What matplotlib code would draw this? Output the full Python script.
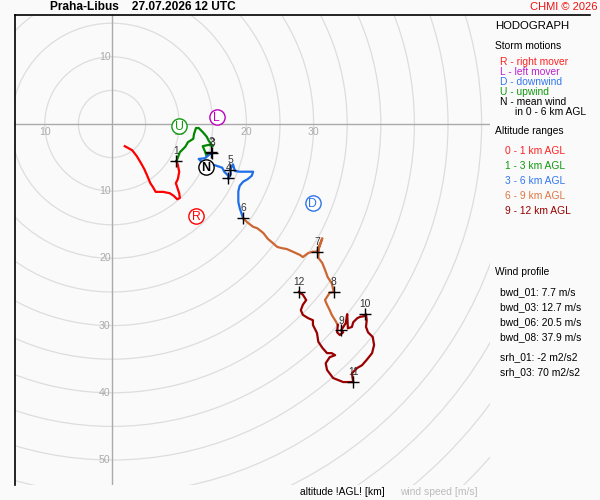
import numpy as np
import matplotlib
matplotlib.use('Agg')
import matplotlib.pyplot as plt
from matplotlib.patches import Circle
from matplotlib.lines import Line2D

plt.rcParams['font.family'] = ['Liberation Sans', 'DejaVu Sans']

# hodograph traces, (u, v) in m/s, one list per altitude range
hodo_0_1 = [(1.9, -3.3), (3.0, -3.9), (3.7, -4.8), (4.3, -5.8), (4.8, -6.7), (5.2, -7.6),
            (5.7, -8.8), (6.1, -9.4), (6.5, -10.1), (7.6, -10.1), (8.6, -10.3), (9.2, -10.7),
            (9.7, -11.2), (10.1, -11.0), (10.0, -10.3), (9.7, -9.4), (9.5, -8.8), (9.8, -8.2),
            (10.0, -7.1), (9.8, -6.1), (9.6, -5.5)]
hodo_1_3 = [(9.6, -5.5), (10.1, -4.2), (10.9, -3.4), (11.3, -2.7), (12.1, -2.2), (12.2, -1.5),
            (12.5, -0.6), (12.9, -0.6), (13.5, -1.2), (14.1, -1.9), (14.4, -2.5), (15.0, -3.3),
            (14.4, -3.1), (13.5, -3.3), (13.8, -4.0), (14.1, -4.8), (14.4, -4.5), (14.8, -4.3)]
hodo_3_6 = [(14.8, -4.3), (13.8, -5.1), (12.9, -5.2), (13.5, -5.8), (14.9, -6.0), (15.8, -6.3),
            (16.4, -6.5), (16.7, -7.1), (17.3, -7.7), (17.3, -8.2), (17.7, -7.4), (17.6, -6.8),
            (18.0, -6.0), (18.3, -7.0), (19.0, -7.1), (20.1, -7.1), (21.0, -7.1), (20.8, -7.7),
            (20.2, -8.2), (19.5, -8.6), (19.0, -9.2), (18.8, -10.0), (18.8, -10.9), (18.8, -11.6),
            (19.0, -12.5), (19.3, -13.4), (19.5, -14.0)]
hodo_6_9 = [(19.5, -14.0), (20.1, -14.6), (21.0, -15.3), (21.6, -15.5), (22.5, -16.2), (23.2, -17.1),
            (23.8, -17.6), (24.6, -18.3), (25.4, -18.5), (26.0, -18.6), (26.9, -19.0), (28.0, -19.5),
            (28.4, -19.8), (29.2, -19.2), (29.9, -19.0), (30.5, -19.0), (31.3, -17.0), (30.8, -18.5),
            (30.7, -19.9), (31.3, -20.7), (31.7, -21.7), (32.1, -22.8), (32.7, -23.7), (33.0, -25.0),
            (32.4, -25.1), (31.7, -26.2), (32.0, -26.9), (32.4, -27.7), (32.7, -28.4), (33.2, -29.2),
            (33.6, -29.9)]
hodo_9_12 = [(33.6, -29.9), (33.5, -31.0), (33.9, -31.4), (34.4, -31.0), (34.1, -30.7), (34.8, -29.6),
             (35.0, -28.3), (35.1, -30.4), (35.7, -30.2), (35.9, -29.5), (36.5, -28.9), (36.9, -28.7),
             (37.5, -28.6), (37.8, -28.3), (37.9, -29.2), (37.8, -30.2), (38.1, -31.0), (38.8, -31.7),
             (39.0, -32.9), (38.7, -34.1), (37.9, -35.1), (37.2, -35.9), (36.5, -36.3), (35.7, -37.1),
             (35.9, -38.4), (34.4, -38.4), (32.9, -37.8), (32.0, -36.6), (31.8, -35.6), (32.4, -34.7),
             (33.2, -34.4), (32.7, -34.1), (32.0, -34.1), (31.3, -33.3), (30.7, -32.4), (30.5, -31.1),
             (29.9, -29.9), (29.9, -29.2), (29.2, -28.9), (28.4, -28.4), (28.1, -27.7), (28.4, -26.9),
             (28.9, -26.2), (28.4, -25.4), (27.8, -25.0)]
layer_colors = ['#ff0000', '#008800', '#1f6fe8', '#cc6633', '#990000']

# wind at each km AGL
km_labels = ['1', '2', '3', '4', '5', '6', '7', '8', '9', '10', '11', '12']
km_u = [9.5, 14.8, 14.9, 17.3, 17.6, 19.5, 30.5, 33.0, 34.1, 37.6, 35.9, 27.8]
km_v = [-5.5, -4.1, -4.3, -8.0, -6.8, -14.0, -19.0, -25.0, -30.7, -28.3, -38.4, -25.0]

# storm motions
storm_names = ['R', 'L', 'D', 'U', 'N']
storm_u = [12.5, 15.6, 29.9, 10.0, 14.0]
storm_v = [-13.7, 1.0, -11.8, -0.3, -6.4]
storm_colors = ['#ff0000', '#bb00bb', '#2f74e8', '#119911', '#000000']

ring_radii = np.arange(5, 85, 5)
x_ticks = [-10, 10, 20, 30]
y_ticks = [10, -10, -20, -30, -40, -50]

legend_storm = [('R - right mover', '#ff2222'), ('L - left mover', '#bb22cc'),
                ('D - downwind', '#3377ee'), ('U - upwind', '#119911'),
                ('N - mean wind', '#000000')]
legend_alt = [('0 - 1 km AGL', '#ff2222'), ('1 - 3 km AGL', '#119911'),
              ('3 - 6 km AGL', '#3377ee'), ('6 - 9 km AGL', '#dd7744'),
              ('9 - 12 km AGL', '#990000')]
profile = ['bwd_01: 7.7 m/s', 'bwd_03: 12.7 m/s', 'bwd_06: 20.5 m/s', 'bwd_08: 37.9 m/s']
helicity = ['srh_01: -2 m2/s2', 'srh_03: 70 m2/s2']

W, H = 600, 500
bg = '#fafafa'
fig = plt.figure(figsize=(6, 5), dpi=100, facecolor=bg)


def fx(px):
    return px / W


def fy(py):
    return 1 - py / H


ax = fig.add_axes([fx(15), fy(485), (490 - 15) / W, (485 - 15) / H])
ax.set_facecolor(bg)
scale = 6.72  # px per m/s, origin at pixel (112, 124)
ax.set_xlim((15 - 112) / scale, (490 - 112) / scale)
ax.set_ylim((124 - 485) / scale, (124 - 15) / scale)
for s in ['top', 'right', 'bottom']:
    ax.spines[s].set_visible(False)
ax.spines['left'].set_color('black')
ax.spines['left'].set_linewidth(1.2)
ax.set_xticks([])
ax.set_yticks([])

for r in ring_radii:
    ax.add_patch(Circle((0, 0), r, fill=False, edgecolor='#dddddd', lw=0.9, zorder=1))
ax.axhline(0, color='#aaaaaa', lw=1, zorder=2)
ax.axvline(0, color='#aaaaaa', lw=1, zorder=2)

for t in x_ticks:
    ax.text(t, -1.2, str(abs(t)), color='#aaaaaa', fontsize=7.6, ha='center', va='center', zorder=2)
for t in y_ticks:
    ax.text(-0.2, t, str(abs(t)), color='#aaaaaa', fontsize=7.6, ha='right', va='center', zorder=2)

for seg, c in zip([hodo_0_1, hodo_1_3, hodo_3_6, hodo_6_9, hodo_9_12], layer_colors):
    seg = np.array(seg)
    ax.plot(seg[:, 0], seg[:, 1], color=c, lw=1.6, solid_joinstyle='round', zorder=3)

ax.plot(km_u, km_v, '+', color='black', ms=9, mew=1, zorder=5)
for lab, u, v in zip(km_labels, km_u, km_v):
    ax.annotate(lab, (u, v), xytext=(0, 7), textcoords='offset points', color='#333333',
                fontsize=7.4, ha='center', va='center', zorder=6)

for name, u, v, c in zip(storm_names, storm_u, storm_v, storm_colors):
    ax.plot(u, v, 'o', ms=11, mfc='white', mec=c, mew=1, zorder=7)
    ax.text(u, v - 0.1, name, color=c, fontsize=8.8 if name != 'N' else 9,
            fontweight='bold' if name == 'N' else 'normal', ha='center', va='center', zorder=8)

# header and frame line
fig.add_artist(Line2D([fx(15), fx(590)], [fy(15), fy(15)], color='black', lw=1.2))
fig.text(fx(50), fy(7), 'Praha-Libus    27.07.2026 12 UTC', fontsize=8.6, fontweight='bold',
         ha='left', va='center')
fig.text(fx(598), fy(7), 'CHMI \u00a9 2026', fontsize=8, color='#ee1111', ha='right', va='center')

# right panel
fs = 7.4
fig.text(fx(495), fy(26), 'HODOGRAPH', fontsize=8.2, ha='left', va='center')
fig.text(fx(495), fy(46), 'Storm motions', fontsize=fs, ha='left', va='center')
for i, (txt, c) in enumerate(legend_storm):
    fig.text(fx(500), fy(62 + 10 * i), txt, fontsize=fs, color=c, ha='left', va='center')
fig.text(fx(515), fy(112), 'in 0 - 6 km AGL', fontsize=fs, ha='left', va='center')
fig.text(fx(495), fy(131), 'Altitude ranges', fontsize=fs, ha='left', va='center')
for i, (txt, c) in enumerate(legend_alt):
    fig.text(fx(505), fy(151 + 15 * i), txt, fontsize=fs, color=c, ha='left', va='center')

fig.text(fx(495), fy(272), 'Wind profile', fontsize=fs, ha='left', va='center')
for i, txt in enumerate(profile):
    fig.text(fx(500), fy(292 + 15 * i), txt, fontsize=fs, ha='left', va='center')
for i, txt in enumerate(helicity):
    fig.text(fx(500), fy(357 + 15 * i), txt, fontsize=fs, ha='left', va='center')

fig.text(fx(300), fy(492), 'altitude !AGL! [km]', fontsize=fs, ha='left', va='center')
fig.text(fx(400), fy(492), 'wind speed [m/s]', fontsize=fs, color='#bbbbbb', ha='left', va='center')

fig.savefig('out.png', dpi=100, facecolor=bg)
